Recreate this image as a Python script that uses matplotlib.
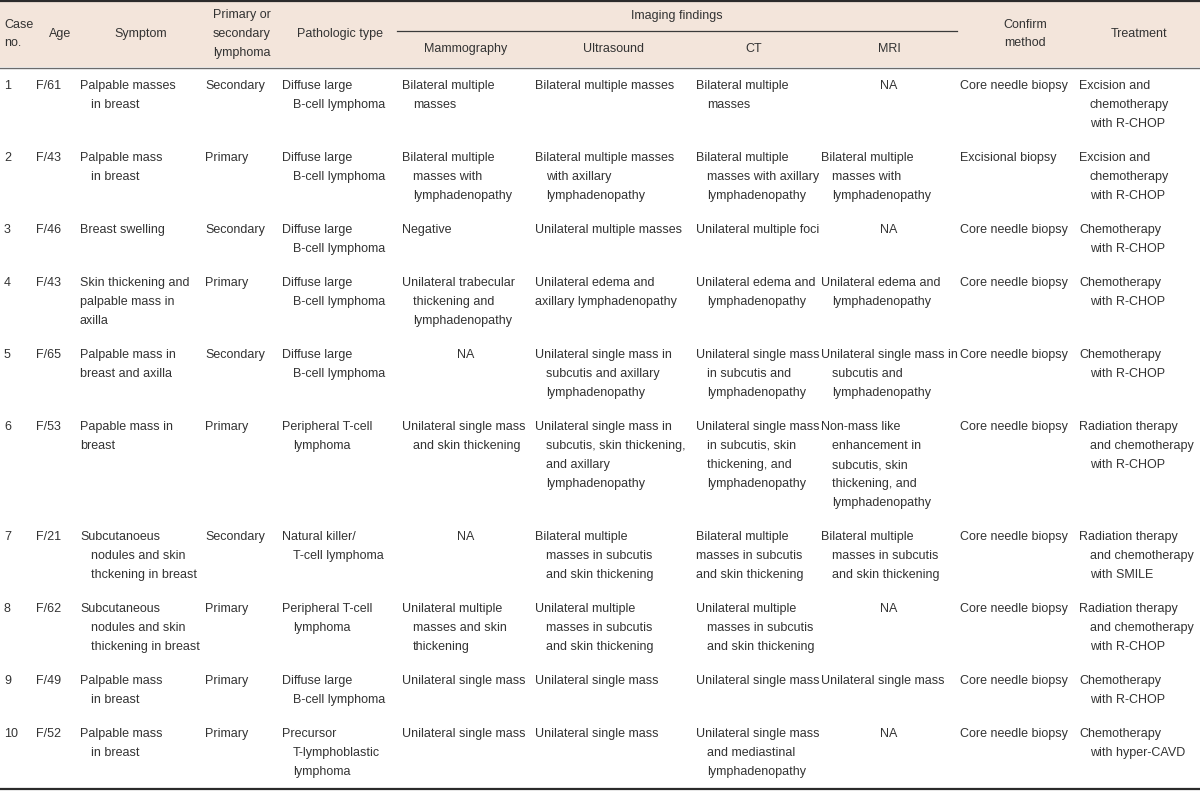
import matplotlib
matplotlib.use('Agg')
import matplotlib.pyplot as plt

plt.rcParams['font.family'] = ['Liberation Sans', 'DejaVu Sans']

# table content, one list per column
case_no = ['1', '2', '3', '4', '5', '6', '7', '8', '9', '10']
age = ['F/61', 'F/43', 'F/46', 'F/43', 'F/65', 'F/53', 'F/21', 'F/62', 'F/49', 'F/52']
symptom = ['Palpable masses\nin breast', 'Palpable mass\nin breast', 'Breast swelling',
           'Skin thickening and\npalpable mass in\naxilla', 'Palpable mass in\nbreast and axilla',
           'Papable mass in\nbreast', 'Subcutanoeus\nnodules and skin\nthckening in breast',
           'Subcutaneous\nnodules and skin\nthickening in breast', 'Palpable mass\nin breast',
           'Palpable mass\nin breast']
origin = ['Secondary', 'Primary', 'Secondary', 'Primary', 'Secondary', 'Primary',
          'Secondary', 'Primary', 'Primary', 'Primary']
pathology = ['Diffuse large\nB-cell lymphoma'] * 5 + \
    ['Peripheral T-cell\nlymphoma', 'Natural killer/\nT-cell lymphoma',
     'Peripheral T-cell\nlymphoma', 'Diffuse large\nB-cell lymphoma',
     'Precursor\nT-lymphoblastic\nlymphoma']
mammography = ['Bilateral multiple\nmasses', 'Bilateral multiple\nmasses with\nlymphadenopathy',
               'Negative', 'Unilateral trabecular\nthickening and\nlymphadenopathy', 'NA',
               'Unilateral single mass\nand skin thickening', 'NA',
               'Unilateral multiple\nmasses and skin\nthickening', 'Unilateral single mass',
               'Unilateral single mass']
ultrasound = ['Bilateral multiple masses', 'Bilateral multiple masses\nwith axillary\nlymphadenopathy',
              'Unilateral multiple masses', 'Unilateral edema and\naxillary lymphadenopathy',
              'Unilateral single mass in\nsubcutis and axillary\nlymphadenopathy',
              'Unilateral single mass in\nsubcutis, skin thickening,\nand axillary\nlymphadenopathy',
              'Bilateral multiple\nmasses in subcutis\nand skin thickening',
              'Unilateral multiple\nmasses in subcutis\nand skin thickening',
              'Unilateral single mass', 'Unilateral single mass']
ct = ['Bilateral multiple\nmasses', 'Bilateral multiple\nmasses with axillary\nlymphadenopathy',
      'Unilateral multiple foci', 'Unilateral edema and\nlymphadenopathy',
      'Unilateral single mass\nin subcutis and\nlymphadenopathy',
      'Unilateral single mass\nin subcutis, skin\nthickening, and\nlymphadenopathy',
      'Bilateral multiple\nmasses in subcutis\nand skin thickening',
      'Unilateral multiple\nmasses in subcutis\nand skin thickening',
      'Unilateral single mass', 'Unilateral single mass\nand mediastinal\nlymphadenopathy']
mri = ['NA', 'Bilateral multiple\nmasses with\nlymphadenopathy', 'NA',
       'Unilateral edema and\nlymphadenopathy',
       'Unilateral single mass in\nsubcutis and\nlymphadenopathy',
       'Non-mass like\nenhancement in\nsubcutis, skin\nthickening, and\nlymphadenopathy',
       'Bilateral multiple\nmasses in subcutis\nand skin thickening', 'NA',
       'Unilateral single mass', 'NA']
confirm = ['Core needle biopsy', 'Excisional biopsy'] + ['Core needle biopsy'] * 8
treatment = ['Excision and\nchemotherapy\nwith R-CHOP', 'Excision and\nchemotherapy\nwith R-CHOP',
             'Chemotherapy\nwith R-CHOP', 'Chemotherapy\nwith R-CHOP', 'Chemotherapy\nwith R-CHOP',
             'Radiation therapy\nand chemotherapy\nwith R-CHOP',
             'Radiation therapy\nand chemotherapy\nwith SMILE',
             'Radiation therapy\nand chemotherapy\nwith R-CHOP',
             'Chemotherapy\nwith R-CHOP', 'Chemotherapy\nwith hyper-CAVD']

columns = [case_no, age, symptom, origin, pathology, mammography, ultrasound, ct, mri,
           confirm, treatment]
headers = ['Case\nno.', 'Age', 'Symptom', 'Primary or\nsecondary\nlymphoma', 'Pathologic type',
           'Mammography', 'Ultrasound', 'CT', 'MRI', 'Confirm\nmethod', 'Treatment']
group_label = 'Imaging findings'

# layout (pixels)
col_x = [4, 36, 80, 205, 282, 402, 535, 696, 821, 960, 1079]
head_x = [4, 60, 141, 242, 340, 466, 613, 754, 889, 1025, 1139]
indent = 11
# multi-line cells whose continuation lines are not indented (col, row)
flush = {(2, 3), (2, 4), (2, 5), (6, 3), (7, 6)}
step = 19
gap = 15
top_y = 86
txt = '#333333'
fs = 9

fig = plt.figure(figsize=(12, 7.91), dpi=100)
ax = fig.add_axes([0, 0, 1, 1])
ax.set_xlim(0, 1200)
ax.set_ylim(791, 0)
ax.axis('off')

# header
ax.axhspan(1, 67, color='#f3e5db', lw=0)
ax.plot([0, 1200], [1, 1], color='#2b2b2b', lw=1.6)
ax.plot([0, 1200], [67.5, 67.5], color='#6b6b6b', lw=1.0)
ax.plot([397, 957], [31, 31], color='#3a3a3a', lw=0.9)
ax.plot([0, 1200], [789, 789], color='#2b2b2b', lw=1.6)

ax.text(677, 16, group_label, ha='center', va='center', fontsize=fs, color=txt)
for j, h in enumerate(headers):
    lines = h.split('\n')
    if 5 <= j <= 8:
        yc = 49
    else:
        yc = 34
    y0 = yc - (len(lines) - 1) * step / 2
    for k, ln in enumerate(lines):
        ha = 'left' if j == 0 else 'center'
        ax.text(head_x[j], y0 + k * step, ln, ha=ha, va='center', fontsize=fs, color=txt)

# body
y = top_y
for i in range(len(case_no)):
    nmax = 1
    for j, col in enumerate(columns):
        cell = col[i]
        lines = cell.split('\n')
        nmax = max(nmax, len(lines))
        if cell == 'NA':
            ax.text(head_x[j], y, cell, ha='center', va='center', fontsize=fs, color=txt)
            continue
        for k, ln in enumerate(lines):
            x = col_x[j]
            if k > 0 and (j, i) not in flush:
                x += indent
            ax.text(x, y + k * step, ln, ha='left', va='center', fontsize=fs, color=txt)
    y += nmax * step + gap

fig.savefig('out.png', dpi=100)
